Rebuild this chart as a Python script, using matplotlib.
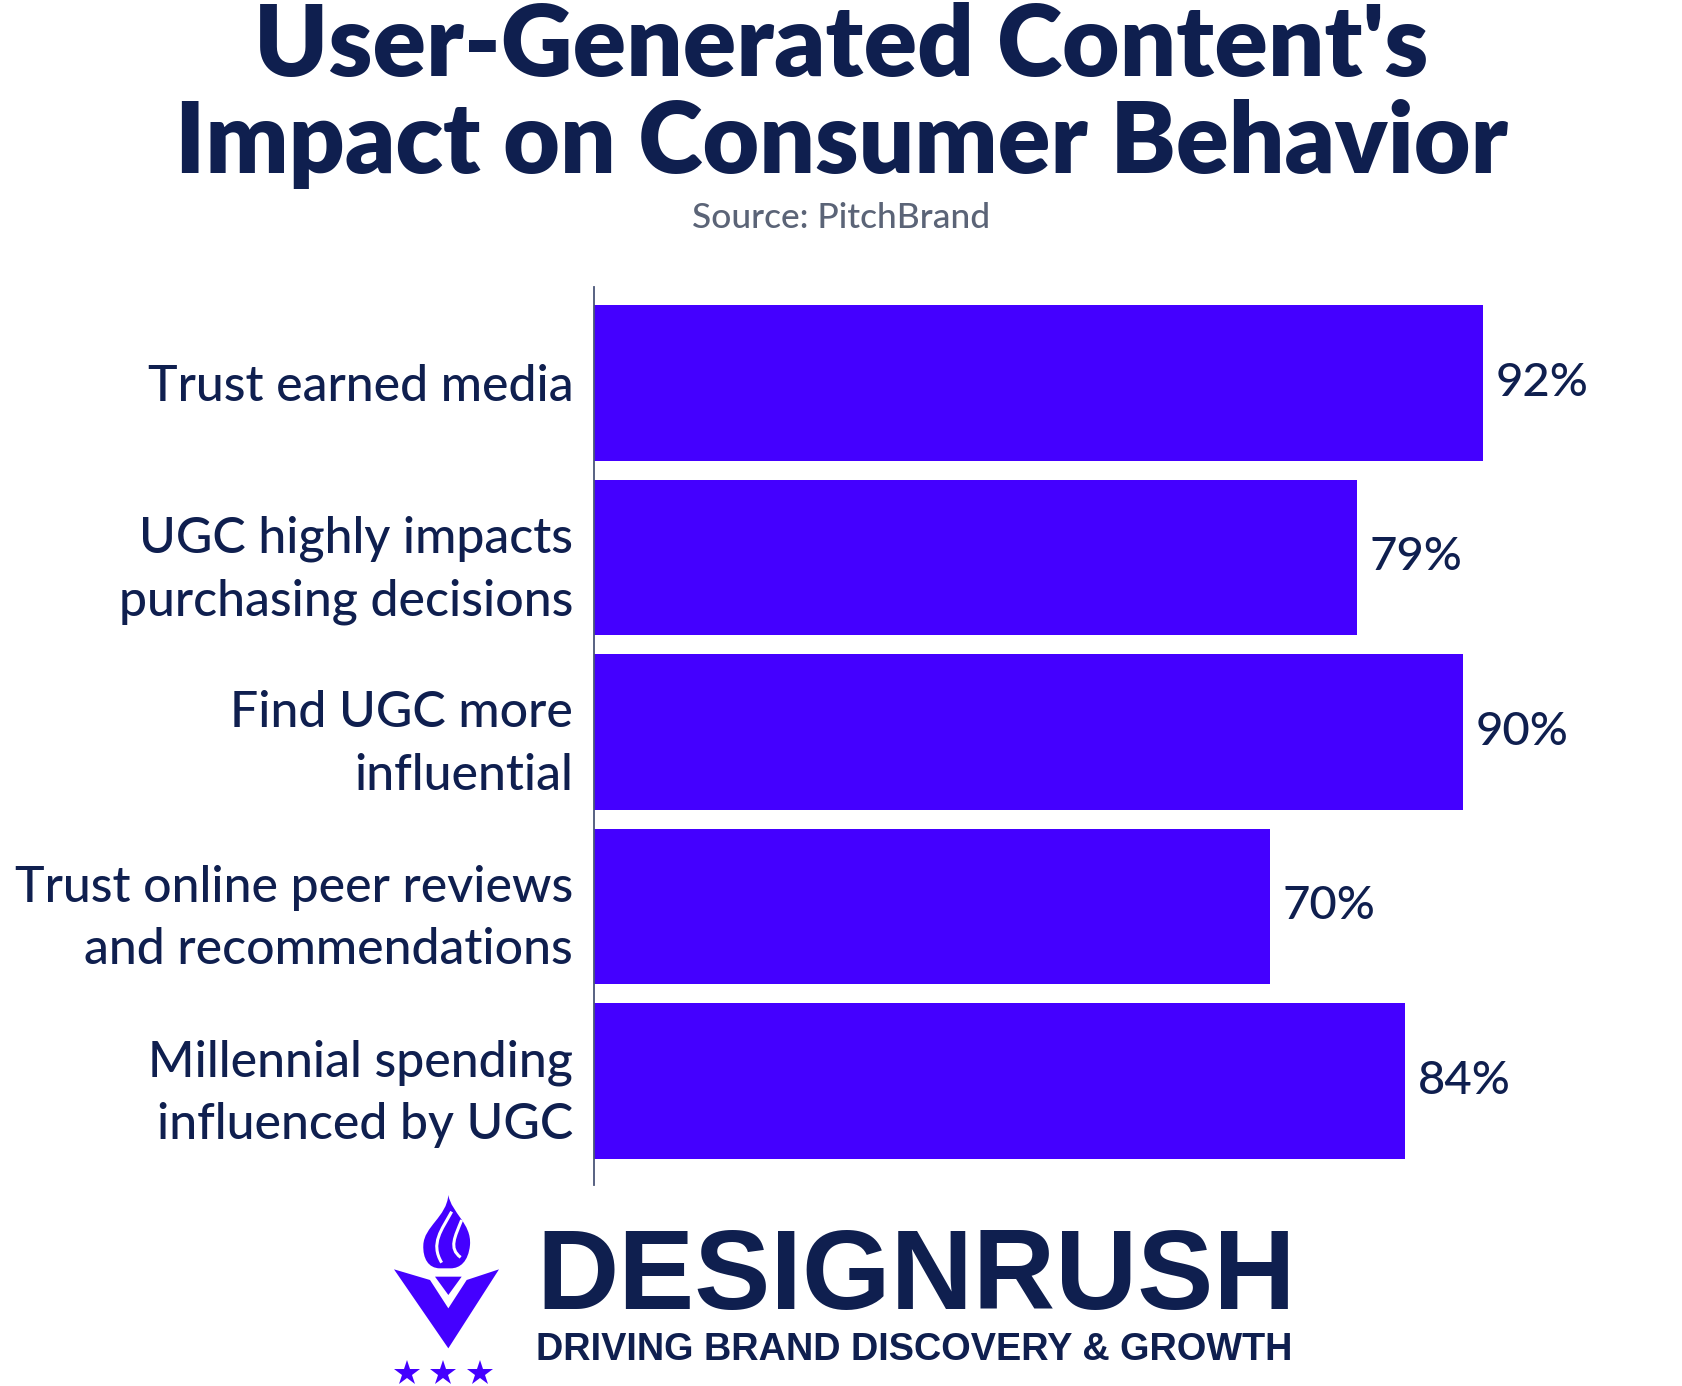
import matplotlib
matplotlib.use('Agg')
import matplotlib.pyplot as plt
from matplotlib.path import Path
from matplotlib.patches import PathPatch, Polygon

# ---- data ----
categories = [
    "Trust earned media",
    "UGC highly impacts\npurchasing decisions",
    "Find UGC more\ninfluential",
    "Trust online peer reviews\nand recommendations",
    "Millennial spending\ninfluenced by UGC",
]
values = [92, 79, 90, 70, 84]
title_lines = ["User-Generated Content's", "Impact on Consumer Behavior"]
source = "Source: PitchBrand"
brand = "DESIGNRUSH"
tagline = "DRIVING BRAND DISCOVERY & GROWTH"

W, H = 1682, 1386
NAVY = '#0f1f4f'
BAR = '#4400ff'
GREY = '#5b6477'
FONT = ['Lato', 'DejaVu Sans']

fig = plt.figure(figsize=(W / 100, H / 100), dpi=100)
fig.patch.set_facecolor('white')

# ---- bar chart ----
ax = fig.add_axes([594 / W, 1 - 1185 / H, 966 / W, 898 / H])
ypos = list(range(len(values)))
ax.barh(ypos, values, height=0.89, color=BAR)
ax.set_xlim(0, 100)
ax.set_ylim(4.596, -0.55)
ax.set_yticks(ypos)
ax.set_yticklabels(categories, fontsize=36, color=NAVY, family=FONT,
                   weight='medium', linespacing=1.44)
ax.tick_params(axis='y', length=0, pad=15)
ax.set_xticks([])
for s in ['top', 'right', 'bottom']:
    ax.spines[s].set_visible(False)
ax.spines['left'].set_color('#4a5578')
ax.spines['left'].set_linewidth(1.3)
for i, v in enumerate(values):
    ax.annotate(f"{v}%", (v, i), xytext=(9, 0), textcoords='offset points',
                va='center', ha='left', fontsize=34, color=NAVY,
                family=FONT, weight='medium')

# ---- titles ----
fig.text(0.5, 1 - 76 / H, title_lines[0], ha='center', va='baseline',
         fontsize=71.5, weight='heavy', color=NAVY, family=FONT)
fig.text(0.5, 1 - 173 / H, title_lines[1], ha='center', va='baseline',
         fontsize=70.5, weight='heavy', color=NAVY, family=FONT)
fig.text(0.5, 1 - 228 / H, source, ha='center', va='baseline',
         fontsize=25.5, color=GREY, family=FONT, weight='medium')

# ---- logo ----
lax = fig.add_axes([0, 0, 1, 1])
lax.set_xlim(0, W)
lax.set_ylim(H, 0)
lax.axis('off')
lax.patch.set_visible(False)


def P(zx, zy):
    return (380 + zx / 3, 1180 + zy / 3)


# V shape
vpts = [P(42, 268), P(150, 300), P(205, 385), P(260, 300), P(357, 268), P(205, 505)]
lax.add_patch(Polygon(vpts, closed=True, color=BAR, lw=0))
lax.add_patch(Polygon([P(165, 290), P(245, 290), P(205, 345)], closed=True, color=BAR, lw=0))

# flame
verts = [P(205, 45),
         P(215, 100), P(275, 130), P(270, 195),
         P(265, 245), P(240, 265), P(212, 265),
         P(180, 265),
         P(145, 265), P(128, 235), P(130, 195),
         P(132, 140), P(200, 110), P(205, 45),
         P(205, 45)]
codes = [Path.MOVETO,
         Path.CURVE4, Path.CURVE4, Path.CURVE4,
         Path.CURVE4, Path.CURVE4, Path.CURVE4,
         Path.LINETO,
         Path.CURVE4, Path.CURVE4, Path.CURVE4,
         Path.CURVE4, Path.CURVE4, Path.CURVE4,
         Path.CLOSEPOLY]
lax.add_patch(PathPatch(Path(verts, codes), color=BAR, lw=0))
# white swirls
sw1 = Path([P(215, 95), P(185, 150), P(150, 190), P(185, 248)],
           [Path.MOVETO, Path.CURVE4, Path.CURVE4, Path.CURVE4])
lax.add_patch(PathPatch(sw1, fill=False, edgecolor='white', lw=2.2))
sw2 = Path([P(245, 120), P(225, 170), P(205, 205), P(242, 232)],
           [Path.MOVETO, Path.CURVE4, Path.CURVE4, Path.CURVE4])
lax.add_patch(PathPatch(sw2, fill=False, edgecolor='white', lw=2.2))

# stars
sx = [P(80, 578)[0], P(190, 578)[0], P(300, 578)[0]]
sy = [P(80, 578)[1]] * 3
lax.plot(sx, sy, marker='*', ms=19, color=BAR, ls='none', mew=0)

fig.text(536 / W, 1 - 1309 / H, brand, ha='left', va='baseline',
         fontsize=82, weight='bold', color=NAVY,
         family=['Liberation Sans', 'DejaVu Sans'])
fig.text(536 / W, 1 - 1360 / H, tagline, ha='left', va='baseline',
         fontsize=27.3, weight='bold', color=NAVY,
         family=['Liberation Sans', 'DejaVu Sans'])

fig.savefig('out.png', dpi=100, facecolor='white')
